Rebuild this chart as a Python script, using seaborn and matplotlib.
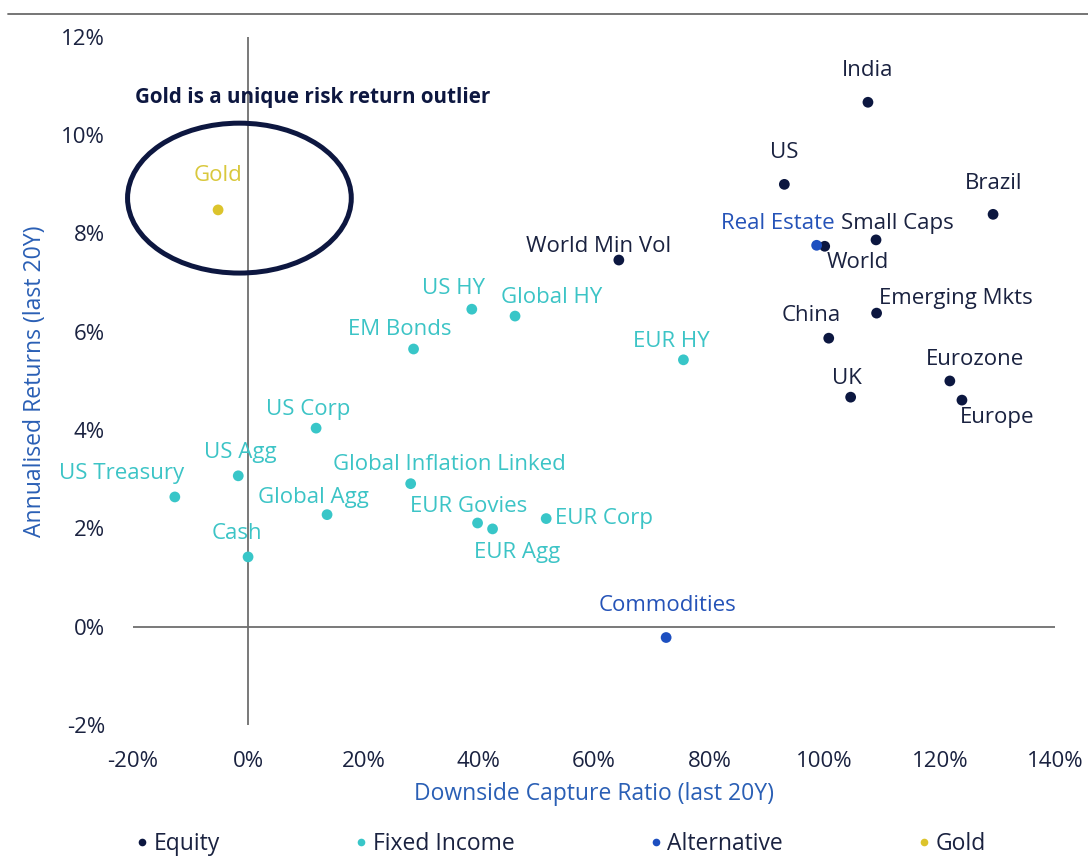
import matplotlib
matplotlib.use("Agg")
import matplotlib.pyplot as plt
from matplotlib.patches import Ellipse
from matplotlib.lines import Line2D
import seaborn as sns
import pandas as pd

# ---- data ----
names = ["India", "US", "Brazil", "Small Caps", "World", "World Min Vol", "Emerging Mkts",
         "China", "Eurozone", "UK", "Europe",
         "US HY", "Global HY", "EM Bonds", "EUR HY", "US Corp", "US Agg", "US Treasury",
         "Global Inflation Linked", "Global Agg", "EUR Govies", "EUR Agg", "EUR Corp", "Cash",
         "Real Estate", "Commodities",
         "Gold"]
categories = (["Equity"] * 11 + ["Fixed Income"] * 13 + ["Alternative"] * 2 + ["Gold"])
downside_capture = [107.5, 93.0, 129.2, 108.9, 100.0, 64.3, 109.0,
                    100.7, 121.7, 104.5, 123.8,
                    38.8, 46.3, 28.7, 75.5, 11.8, -1.7, -12.7,
                    28.2, 13.7, 39.8, 42.4, 51.7, 0.0,
                    98.6, 72.5,
                    -5.2]
annual_returns = [10.67, 9.0, 8.39, 7.87, 7.74, 7.46, 6.38,
                  5.87, 5.0, 4.67, 4.61,
                  6.46, 6.32, 5.65, 5.43, 4.04, 3.07, 2.64,
                  2.91, 2.28, 2.11, 1.99, 2.2, 1.42,
                  7.76, -0.22,
                  8.48]
x_ticks = [-20, 0, 20, 40, 60, 80, 100, 120, 140]
y_ticks = [-2, 0, 2, 4, 6, 8, 10, 12]
legend_order = ["Equity", "Fixed Income", "Alternative", "Gold"]

# ---- styles ----
palette = {"Equity": "#0c1740", "Fixed Income": "#38c6c8",
           "Alternative": "#1d4fc0", "Gold": "#dcc42c"}
text_colors = {"Equity": "#1a2240", "Fixed Income": "#3cc4c6",
               "Alternative": "#2553b8", "Gold": "#d9c83c"}
# label offsets in pixels (dx, dy), ha
px_offsets = {
    "India": (0, 32, "center"), "US": (0, 32, "center"), "Brazil": (1, 31, "center"),
    "Small Caps": (21, 16, "center"), "World": (33, -16, "center"),
    "Real Estate": (-39, 22, "center"), "World Min Vol": (-20, 14, "center"),
    "Emerging Mkts": (2, 15, "left"), "China": (-17, 23, "center"),
    "Eurozone": (25, 21, "center"), "UK": (-4, 19, "center"), "Europe": (35, -17, "center"),
    "Gold": (0, 34, "center"), "US HY": (-18, 21, "center"), "Global HY": (37, 19, "center"),
    "EM Bonds": (-14, 20, "center"), "EUR HY": (-12, 18, "center"),
    "US Corp": (-8, 19, "center"), "US Agg": (2, 23, "center"),
    "US Treasury": (9, 23, "right"), "Global Inflation Linked": (-78, 19, "left"),
    "Global Agg": (-14, 17, "center"), "EUR Govies": (-9, 16, "center"),
    "EUR Agg": (25, -24, "center"), "EUR Corp": (9, 0, "left"),
    "Cash": (-11, 23, "center"), "Commodities": (1, 32, "center"),
}
FS = 16

sns.set_theme(style="white")
plt.rcParams["font.family"] = ["Open Sans", "DejaVu Sans"]

df = pd.DataFrame({"name": names, "cat": categories,
                   "x": downside_capture, "y": annual_returns})

fig = plt.figure(figsize=(10.88, 8.58), dpi=100)
ax = fig.add_axes([0.122, 0.155, 0.848, 0.802])

ax.axvline(0, color="#6e6e6e", lw=1.3, zorder=1, ymin=-0.003, ymax=1.0)
ax.axhline(0, color="#6e6e6e", lw=1.3, zorder=1)

sns.scatterplot(data=df, x="x", y="y", hue="cat", hue_order=legend_order,
                palette=palette, s=60, edgecolor="none", ax=ax, zorder=3, legend=False)

for n, c, xv, yv in zip(names, categories, downside_capture, annual_returns):
    dx, dy, ha = px_offsets[n]
    ax.annotate(n, (xv, yv), xytext=(dx * 0.72, dy * 0.72), textcoords="offset points",
                ha=ha, va="center", fontsize=FS, color=text_colors[c], zorder=4)

ax.add_patch(Ellipse((-1.5, 8.72), 38.8, 3.05, fill=False, edgecolor="#0d1740", lw=3.6,
                     zorder=2, clip_on=False))
ax.text(-19.6, 10.77, "Gold is a unique risk return outlier", fontsize=14.9,
        fontweight="bold", color="#0d1740", va="center", ha="left")

ax.set_xlim(-20, 140)
ax.set_ylim(-2, 12)
ax.set_xticks(x_ticks)
ax.set_xticklabels([f"{t}%" for t in x_ticks])
ax.set_yticks(y_ticks)
ax.set_yticklabels([f"{t}%" for t in y_ticks])
ax.tick_params(axis="both", length=0, labelsize=FS, labelcolor="#1a2240")
ax.tick_params(axis="x", pad=19)
ax.tick_params(axis="y", pad=20)
for sp in ax.spines.values():
    sp.set_visible(False)
ax.set_xlabel("Downside Capture Ratio (last 20Y)", fontsize=16.5, color="#2a5fb5", labelpad=7)
ax.set_ylabel("Annualised Returns (last 20Y)", fontsize=16.6, color="#2a5fb5", labelpad=10)

handles = [Line2D([], [], marker="o", linestyle="none", markersize=5.5,
                  markerfacecolor=palette[k], markeredgecolor="none") for k in legend_order]
fig.legend(handles, legend_order, loc="center left", bbox_to_anchor=(0.103, 0.016),
           ncol=4, frameon=False, fontsize=16.5, columnspacing=5.75, handletextpad=0.12,
           handlelength=0.8, labelcolor="#1a2240")

fig.add_artist(Line2D([0.007, 1.0], [1 - 14 / 858, 1 - 14 / 858], transform=fig.transFigure,
                      color="#6a6a6a", lw=1.3))

fig.savefig("out.png", dpi=100)
